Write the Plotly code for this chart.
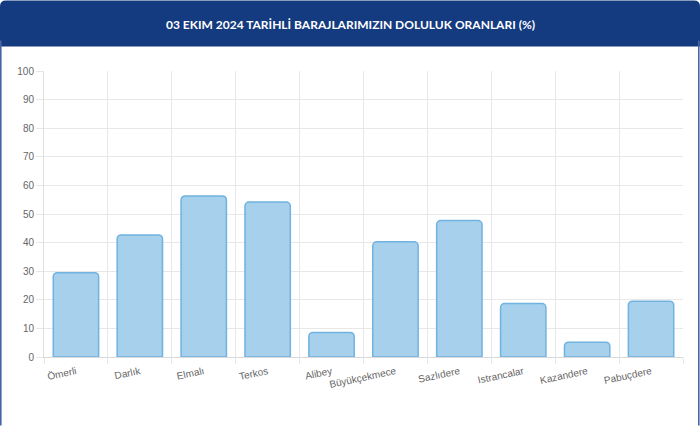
import plotly.graph_objects as go

# ---- data ----
dams = ["Ömerli", "Darlık", "Elmalı", "Terkos", "Alibey", "Büyükçekmece",
        "Sazlıdere", "Istrancalar", "Kazandere", "Pabuçdere"]
fill_pct = [29.5, 42.7, 56.3, 54.2, 8.6, 40.3, 47.7, 18.7, 5.2, 19.5]
title_text = "03 EKIM 2024 TARİHLİ BARAJLARIMIZIN DOLULUK ORANLARI (%)"
y_ticks = list(range(0, 101, 10))

# ---- layout geometry ----
W, H = 700, 426
ML, MR, MT, MB = 44, 17, 70.6, 68.7
PW, PH = W - ML - MR, H - MT - MB

def px_x(x):
    return (x - ML) / PW

def px_y(y):
    return (H - MB - y) / PH

positions = list(range(len(dams)))

fig = go.Figure()
fig.add_trace(go.Bar(
    x=positions, y=fill_pct, width=0.71,
    marker=dict(color="#a6d0eb", line=dict(color="#70b2e0", width=1.5),
                cornerradius=4),
    hoverinfo="x+y",
))

# header band with rounded top corners
r = 6
hx0, hx1, hy0, hy1 = 0, W, 0, 46
path = (f"M {px_x(hx0)},{px_y(hy1)} "
        f"L {px_x(hx0)},{px_y(hy0 + r)} "
        f"Q {px_x(hx0)},{px_y(hy0)} {px_x(hx0 + r)},{px_y(hy0)} "
        f"L {px_x(hx1 - r)},{px_y(hy0)} "
        f"Q {px_x(hx1)},{px_y(hy0)} {px_x(hx1)},{px_y(hy0 + r)} "
        f"L {px_x(hx1)},{px_y(hy1)} Z")
shapes = [
    dict(type="path", xref="paper", yref="paper", path=path,
         fillcolor="#143a7f", line=dict(width=0), layer="below"),
    dict(type="line", xref="paper", yref="paper",
         x0=px_x(0.8), x1=px_x(0.8), y0=px_y(40), y1=px_y(H),
         line=dict(color="#4466a6", width=1.6)),
    dict(type="line", xref="paper", yref="paper",
         x0=px_x(698.8), x1=px_x(698.8), y0=px_y(40), y1=px_y(H),
         line=dict(color="#4466a6", width=1.6)),
]

fig.update_layout(
    width=W, height=H,
    margin=dict(l=ML, r=MR, t=MT, b=MB, pad=0),
    paper_bgcolor="white", plot_bgcolor="white",
    showlegend=False,
    shapes=shapes,
    annotations=[dict(text=f"<b>{title_text}</b>", xref="paper", yref="paper",
                      x=px_x(350), y=px_y(24), xanchor="center", yanchor="middle",
                      showarrow=False,
                      font=dict(family="Lato", size=12, color="white"))],
    font=dict(family="Liberation Sans, Arial", size=10, color="#666666"),
)

fig.update_xaxes(
    range=[-0.5, len(dams) - 0.5],
    tickmode="array", tickvals=positions, ticktext=dams,
    tickangle=-12, showgrid=False, ticks="", zeroline=False,
    showline=True, linecolor="#d9d9d9", linewidth=1,
    tickfont=dict(size=10, color="#666666"),
    ticklabelstandoff=4,
    minor=dict(tickmode="array", tickvals=[p - 0.5 for p in positions] + [len(dams) - 0.5],
               showgrid=True, gridcolor="#e8e8e8", gridwidth=1,
               ticks="outside", ticklen=6, tickcolor="#e8e8e8"),
    fixedrange=True,
)
fig.update_yaxes(
    range=[0, 100], tickmode="array", tickvals=y_ticks,
    showgrid=True, gridcolor="#e8e8e8", gridwidth=1,
    ticks="outside", ticklen=7, tickcolor="#e8e8e8",
    showline=True, linecolor="#e0e0e0", linewidth=1,
    zeroline=False, tickfont=dict(size=10, color="#666666"),
    fixedrange=True,
)

fig.write_html("out.html", config={"displayModeBar": False},
               post_script="document.body.style.margin='0';document.body.style.overflow='hidden';")
